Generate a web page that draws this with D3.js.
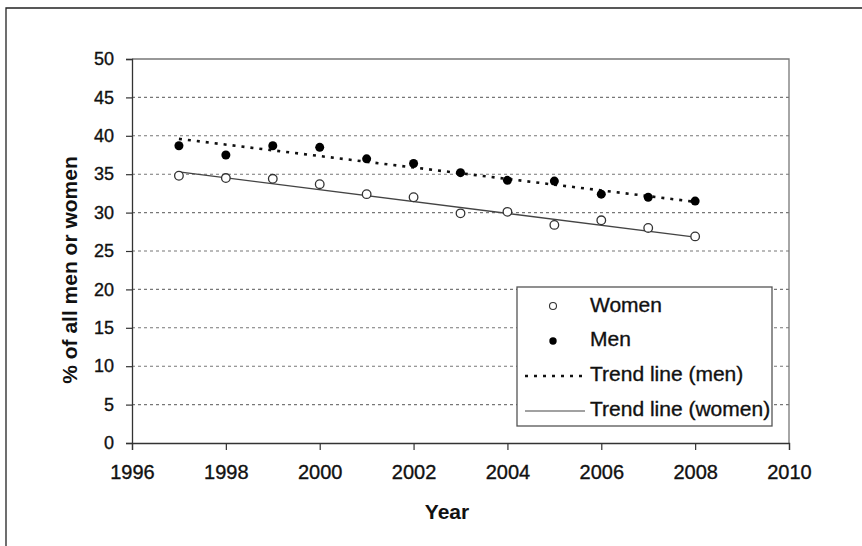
<!DOCTYPE html>
<html><head><meta charset="utf-8">
<script src="https://cdn.jsdelivr.net/npm/d3@7"></script>
<style>body{margin:0;background:#fff;} svg{display:block;}</style>
</head><body>
<svg id="c" width="862" height="546"></svg>
<script>
const years = [1997,1998,1999,2000,2001,2002,2003,2004,2005,2006,2007,2008];
const women = [34.8,34.5,34.4,33.7,32.4,32.0,29.9,30.1,28.4,29.0,28.0,26.9];
const men   = [38.7,37.5,38.7,38.5,37.0,36.4,35.2,34.2,34.1,32.4,32.0,31.5];
const trendYears = [1997, 2008];
const trendMen = [39.6, 31.4];
const trendWomen = [35.3, 26.8];
const xTicks = [1996,1998,2000,2002,2004,2006,2008,2010];
const yTicks = [0,5,10,15,20,25,30,35,40,45,50];
const legendLabels = ["Women","Men","Trend line (men)","Trend line (women)"];

const svg = d3.select("#c");
const font = "'Liberation Sans', Arial, sans-serif";
const L = 132, R = 789, T = 59, B = 443;
const x = d3.scaleLinear().domain([1996,2010]).range([L,R]);
const y = d3.scaleLinear().domain([0,50]).range([B,T]);

// outer frame
svg.append("path").attr("d","M6,546V8H862").attr("fill","none").attr("stroke","#222").attr("stroke-width",1.3);

// gridlines
svg.append("g").selectAll("line").data(yTicks.filter(d=>d>0 && d<50)).join("line")
  .attr("x1",L).attr("x2",R).attr("y1",d=>y(d)).attr("y2",d=>y(d))
  .attr("stroke","#777").attr("stroke-width",1.1).attr("stroke-dasharray","3,3");

// plot border top/right
svg.append("path").attr("d",`M${L},${T}H${R}V${B}`).attr("fill","none").attr("stroke","#777").attr("stroke-width",1.3);

// axes
const gy = svg.append("g").attr("transform",`translate(${L},0)`)
  .call(d3.axisLeft(y).tickValues(yTicks).tickSize(6).tickPadding(12));
gy.selectAll("text").attr("font-family",font).attr("font-size",18).attr("fill","#111")
  .attr("stroke","#111").attr("stroke-width",0.35);
const gx = svg.append("g").attr("transform",`translate(0,${B})`)
  .call(d3.axisBottom(x).tickValues(xTicks).tickFormat(d3.format("d")).tickSize(7).tickPadding(15));
gx.selectAll("text").attr("font-family",font).attr("font-size",20).attr("fill","#111")
  .attr("stroke","#111").attr("stroke-width",0.35);
[gx,gy].forEach(g=>{
  g.select(".domain").attr("stroke","#333").attr("stroke-width",1.3);
  g.selectAll(".tick line").attr("stroke","#333").attr("stroke-width",1.2);
});

// trend lines
const line = d3.line().x(d=>x(d[0])).y(d=>y(d[1]));
svg.append("path").datum(trendYears.map((t,i)=>[t,trendWomen[i]])).attr("d",line)
  .attr("fill","none").attr("stroke","#444").attr("stroke-width",1.3);
svg.append("path").datum(trendYears.map((t,i)=>[t,trendMen[i]])).attr("d",line)
  .attr("fill","none").attr("stroke","#111").attr("stroke-width",2.6).attr("stroke-dasharray","3,6");

// points
svg.append("g").selectAll("circle").data(years.map((t,i)=>[t,women[i]])).join("circle")
  .attr("cx",d=>x(d[0])).attr("cy",d=>y(d[1])).attr("r",4.3)
  .attr("fill","#fff").attr("stroke","#333").attr("stroke-width",1.3);
svg.append("g").selectAll("circle").data(years.map((t,i)=>[t,men[i]])).join("circle")
  .attr("cx",d=>x(d[0])).attr("cy",d=>y(d[1])).attr("r",4.5).attr("fill","#000");

// axis titles
svg.append("text").attr("x",447).attr("y",519).attr("text-anchor","middle")
  .attr("font-family",font).attr("font-weight","bold").attr("font-size",21).attr("fill","#111").text("Year");
svg.append("text").attr("transform","translate(77,270) rotate(-90)").attr("text-anchor","middle")
  .attr("font-family",font).attr("font-weight","bold").attr("font-size",21).attr("fill","#111").text("% of all men or women");

// legend
const lg = svg.append("g");
lg.append("rect").attr("x",517).attr("y",287).attr("width",255).attr("height",139)
  .attr("fill","#fff").attr("stroke","#555").attr("stroke-width",1.3);
const rowsY = [312,346,381,416];
lg.selectAll("text").data(legendLabels).join("text")
  .attr("x",590).attr("y",(d,i)=>rowsY[i]).attr("font-family",font).attr("font-size",21).attr("fill","#111")
  .attr("stroke","#111").attr("stroke-width",0.35).text(d=>d);
lg.append("circle").attr("cx",553).attr("cy",306).attr("r",3.5).attr("fill","#fff").attr("stroke","#333").attr("stroke-width",1.1);
lg.append("circle").attr("cx",553).attr("cy",341).attr("r",3.7).attr("fill","#000");
lg.append("line").attr("x1",525).attr("x2",587).attr("y1",376).attr("y2",376)
  .attr("stroke","#111").attr("stroke-width",2.4).attr("stroke-dasharray","3,6");
lg.append("line").attr("x1",525).attr("x2",585).attr("y1",411).attr("y2",411)
  .attr("stroke","#444").attr("stroke-width",1.1);
</script>
</body></html>
